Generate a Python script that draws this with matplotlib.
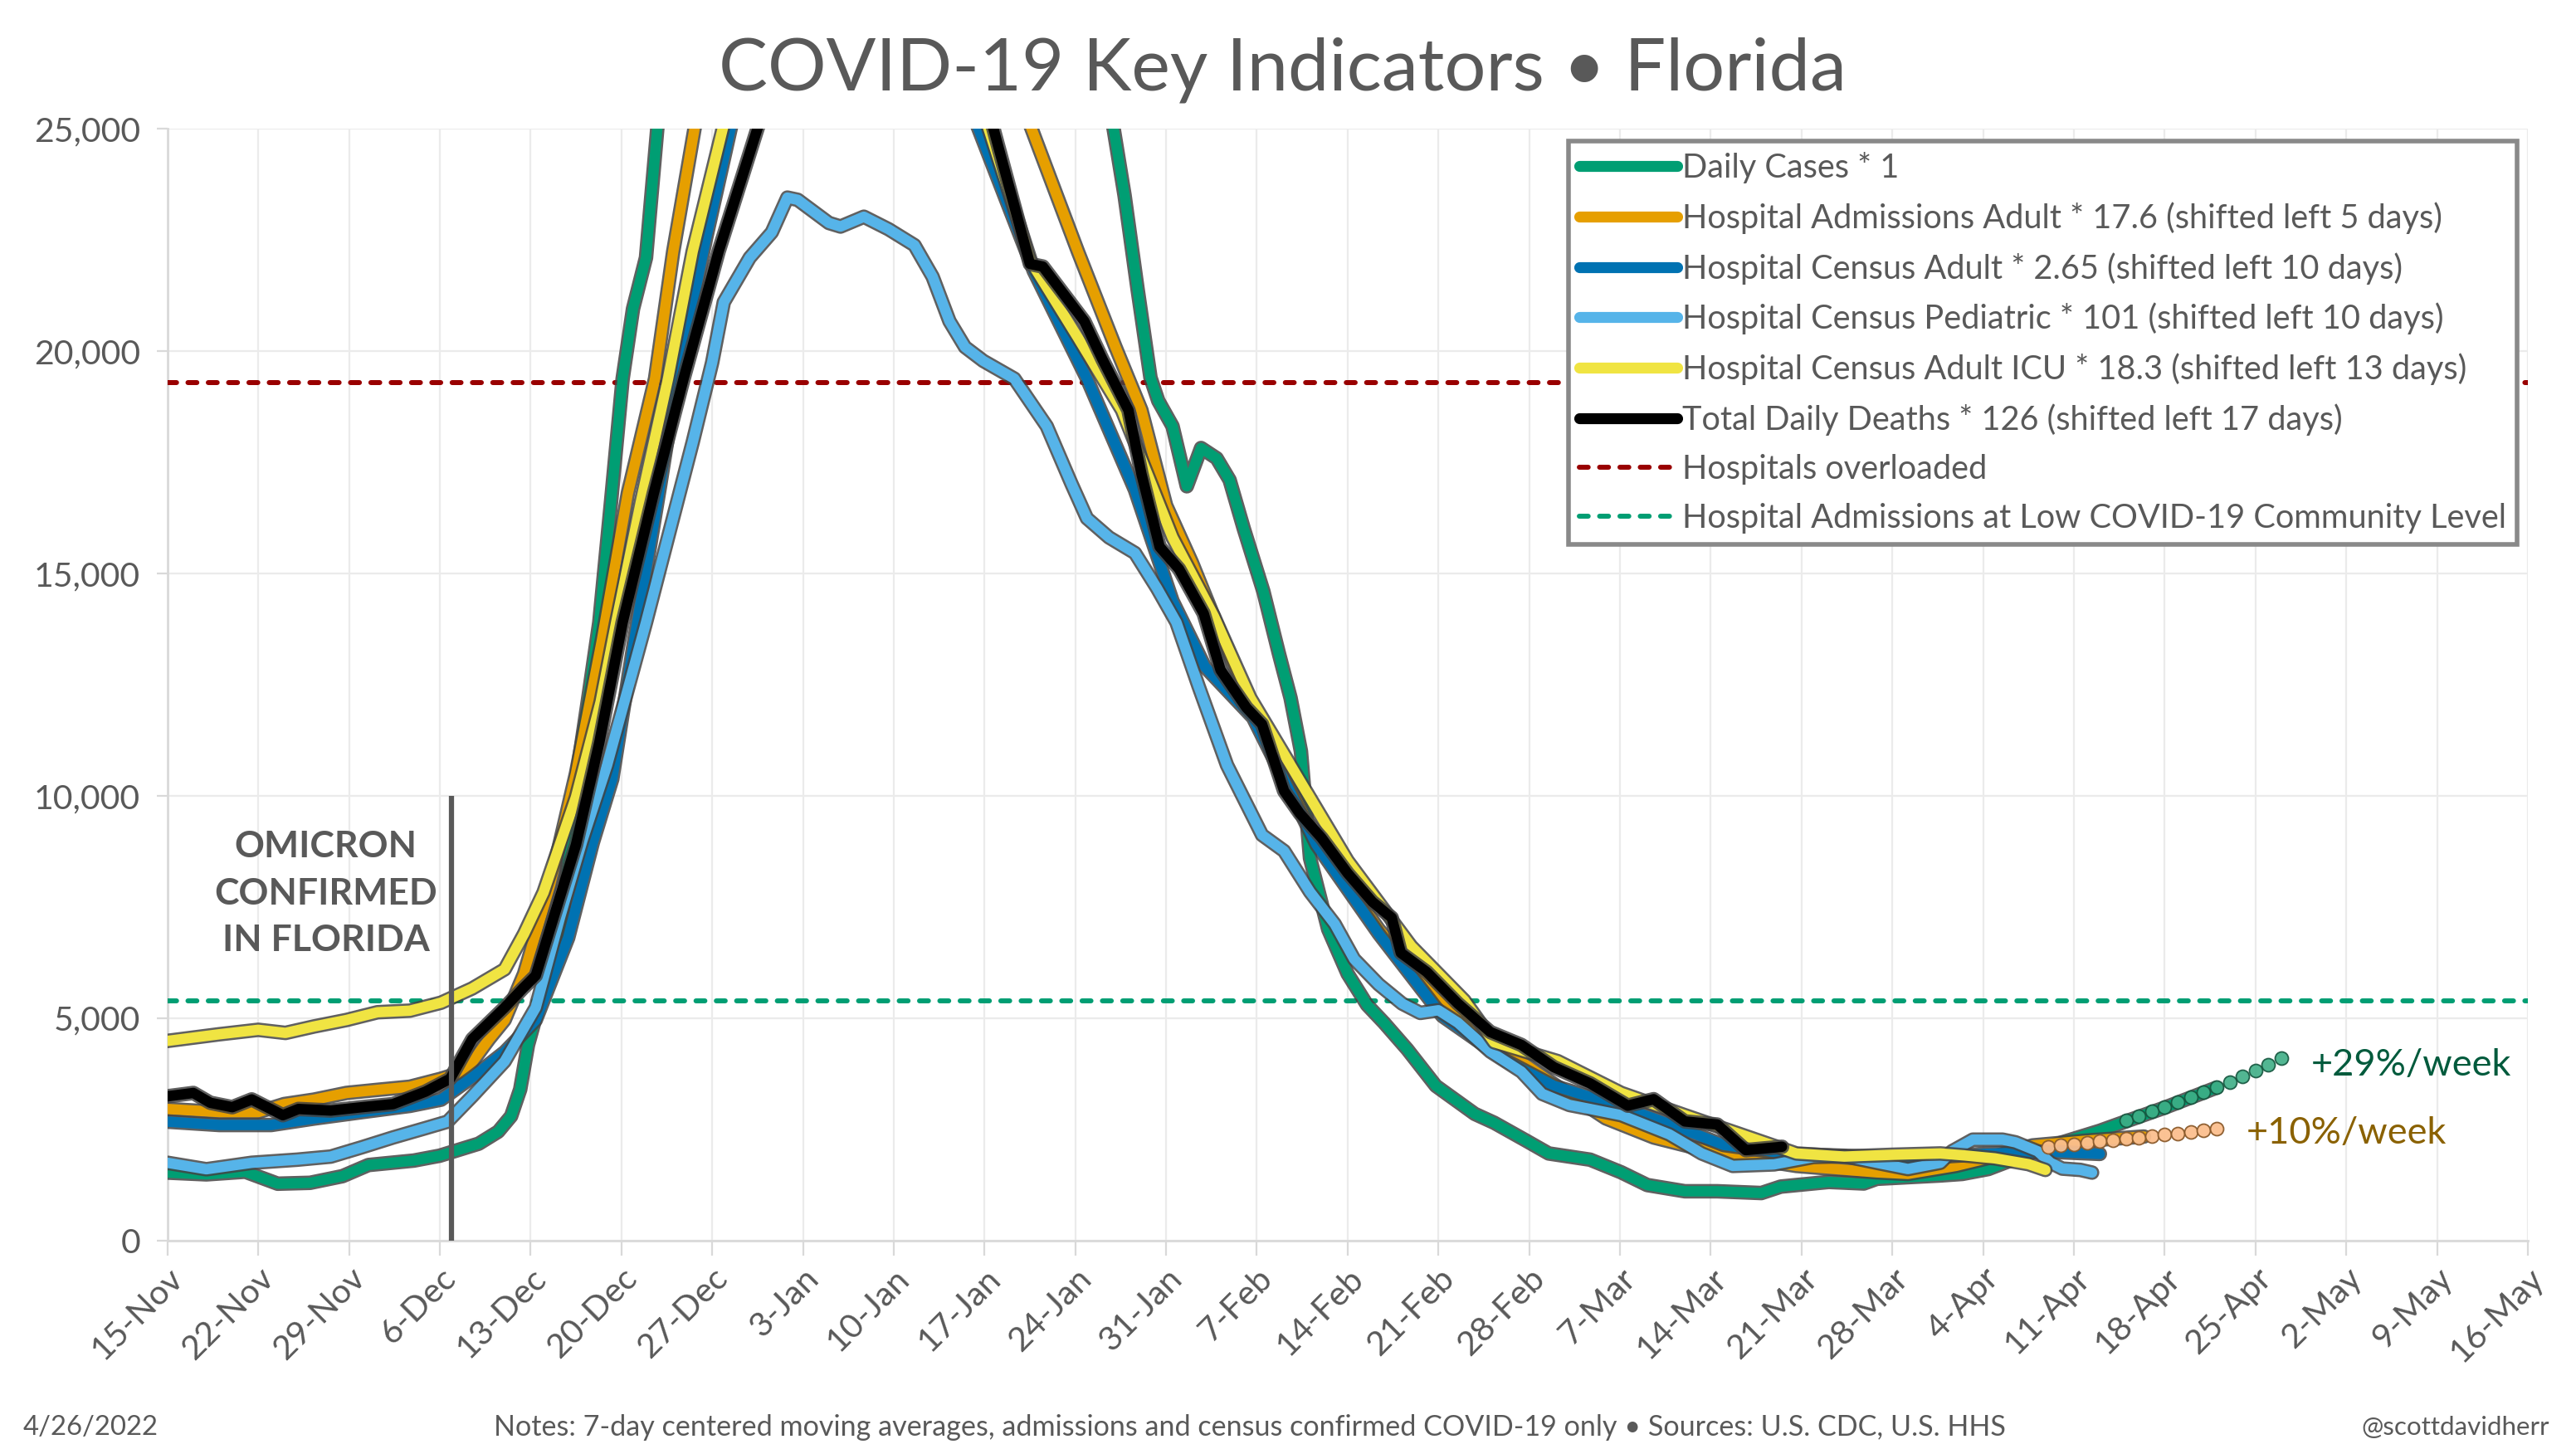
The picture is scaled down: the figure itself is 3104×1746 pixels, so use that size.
import numpy as np
import pandas as pd
import matplotlib
matplotlib.use("Agg")
import matplotlib.pyplot as plt
import matplotlib.patheffects as pe
from matplotlib.lines import Line2D
from matplotlib.ticker import FuncFormatter

plt.rcParams['font.family'] = ['Lato', 'DejaVu Sans']

START = pd.Timestamp("2021-11-15")
END = pd.Timestamp("2022-05-16")

# values: day offsets from 15-Nov-2021, scaled values
cases_days = [0, 3, 6, 8.5, 11, 13.5, 15.5, 19, 21, 24, 25.5, 26.5, 27.2, 27.8, 28.4, 29.4, 30.4,
              31.5, 32.4, 33.3, 34.2, 35.1, 35.9, 36.9, 37.8, 40, 45, 50, 55, 60, 65, 70, 72.9,
              73.8, 74.8, 75.8, 76.4, 77.5, 78.6, 79.7, 80.9, 81.9, 83, 84.5, 85.7, 86.6, 87.4,
              88.1, 89.5, 91, 92.5, 93.8, 95.6, 97.8, 100.8, 102.3, 104.75, 106.5, 109.7, 112.1,
              114.1, 117, 119.5, 122.9, 124.4, 128.1, 130.8, 131.8, 136.7, 138.4, 140.4, 143, 146,
              149, 151, 154, 158]
cases_vals = [1530, 1490, 1550, 1280, 1300, 1450, 1700, 1800, 1910, 2180, 2450, 2800, 3400, 4400,
              5030, 6000, 7100, 10340, 12100, 13900, 16600, 19380, 20950, 22100, 25100, 32000,
              48000, 60000, 64000, 58000, 45000, 32000, 25100, 23500, 21400, 19400, 18880, 18310,
              16960, 17820, 17590, 17100, 16000, 14600, 13200, 12200, 11000, 8600, 7000, 6000,
              5300, 4900, 4300, 3480, 2850, 2650, 2250, 1960, 1820, 1535, 1250, 1110, 1110, 1070,
              1215, 1320, 1285, 1390, 1465, 1500, 1610, 1900, 2200, 2470, 2680, 2990, 3440]

adm_days = [0, 4, 7, 9, 11.3, 13.8, 16.2, 18.7, 21.1, 23, 24.8, 26, 27.5, 29.5, 31.5, 33.5, 35.5,
            37.6, 39, 40.7, 45, 55, 62, 66.5, 70.2, 73.1, 75.1, 77, 79, 81, 84, 88.6, 93.4, 98,
            100, 104, 107, 110.9, 114.6, 119.5, 125.6, 131.8, 134.2, 137.9, 141, 143.8, 148, 152.4]
adm_vals = [2960, 2890, 2890, 3070, 3170, 3320, 3390, 3460, 3640, 3815, 4530, 4960, 6000, 8000,
            10500, 13500, 16800, 19380, 22240, 25100, 28500, 30500, 28500, 25100, 22240, 20090,
            18670, 16530, 15240, 13800, 11700, 9000, 7000, 5400, 4900, 4100, 3500, 2750, 2320,
            1960, 1680, 1535, 1500, 1680, 1900, 2140, 2250, 2340]

census_days = [0, 4, 8, 11.3, 15, 18.7, 21.1, 23.5, 26, 28.4, 30.9, 32.8, 34.3, 36, 38, 39.3, 41.5,
               43.5, 50, 56, 60, 62.4, 66.8, 70.9, 74.6, 77.5, 80, 83.7, 88.6, 93.4, 98.3, 103.2,
               106.9, 111.7, 116, 120, 125, 130, 135, 140, 145, 149]
census_vals = [2675, 2600, 2600, 2745, 2890, 3030, 3170, 3670, 4240, 4960, 6810, 8950, 10380,
               13500, 17000, 19380, 22500, 25100, 29500, 30000, 27500, 25100, 21800, 19380, 16880,
               14380, 12900, 11760, 8900, 6900, 5050, 4050, 3480, 3050, 2600, 2150, 1950, 1900,
               1850, 1950, 2000, 1950]

ped_days = [0, 3, 6.5, 10, 12.6, 15, 17.4, 19.9, 21.6, 23.5, 26, 28.4, 30.3, 32, 33.9, 36.9, 40.5,
            42, 42.9, 44.9, 46.6, 47.8, 48.6, 51, 51.9, 53.7, 55.6, 57.6, 59, 60.3, 61.5, 62.9,
            65.3, 67.8, 69.7, 70.9, 72.6, 74.6, 76.3, 77.8, 79.5, 81.7, 84.4, 86.1, 88.1, 90, 91.5,
            93.4, 95.2, 96.6, 98, 99.5, 102, 104.4, 106, 108.1, 109.7, 112.1, 115.8, 118.3, 120.7,
            123.9, 126.9, 129.3, 131.8, 134.2, 136.7, 137.6, 139.2, 141.5, 142.5, 144.2, 145.2,
            146.1, 147.5, 148.4]
ped_vals = [1750, 1605, 1750, 1820, 1890, 2100, 2320, 2530, 2675, 3245, 4030, 5240, 7300, 9000,
            10690, 13900, 17950, 19740, 21100, 22100, 22670, 23450, 23400, 22880, 22800, 23020,
            22740, 22380, 21670, 20670, 20090, 19780, 19380, 18310, 17020, 16240, 15810, 15460,
            14670, 13900, 12470, 10690, 9120, 8760, 7840, 7120, 6330, 5760, 5330, 5120, 5180,
            4900, 4250, 3800, 3300, 3050, 2960, 2820, 2390, 1960, 1680, 1715, 1880, 1900, 1750,
            1610, 1750, 2010, 2270, 2270, 2210, 2010, 1750, 1620, 1590, 1530]

icu_days = [0, 4, 7, 9.1, 11.3, 13.8, 16.2, 18.7, 21.1, 23.5, 26, 27.5, 29, 31.5, 33.4, 34.6, 36.5,
            38.6, 40.5, 42.9, 50, 57, 61, 63.2, 66.6, 70.2, 73.6, 77.5, 80.7, 83.5, 86.6, 91, 95.9,
            100, 102.3, 107.2, 112.1, 117, 122, 125.6, 129.3, 133, 136.7, 138.6, 140.9, 143.5, 144.8]
icu_vals = [4490, 4640, 4740, 4670, 4815, 4960, 5135, 5170, 5350, 5670, 6100, 6900, 7830, 9970,
            12110, 13900, 16600, 19380, 22240, 25100, 28000, 28500, 27000, 25100, 22000, 20300,
            18670, 15810, 14030, 12200, 10690, 8540, 6620, 5400, 4460, 4035, 3320, 2820, 2320,
            1960, 1890, 1930, 1960, 1915, 1850, 1720, 1590]

death_days = [0, 2, 3.3, 5, 6.5, 8.9, 10.1, 12.6, 15, 17.4, 19.9, 21.8, 23.5, 26, 27.4, 28.4, 31.5,
              33.3, 35.1, 37.5, 39.8, 42.5, 45.6, 52, 58, 62, 63.6, 66.5, 67.5, 70.7, 72.1, 74.1,
              75.1, 76.5, 78, 79.9, 81.2, 83.2, 84.4, 86.1, 87.3, 89, 91, 92.9, 94.4, 95.1, 97.1,
              99.5, 102, 104.4, 106.9, 109.7, 112.6, 114.6, 117, 119.5, 121.7, 124.5]
death_vals = [3245, 3320, 3100, 3000, 3175, 2820, 2960, 2925, 3000, 3070, 3350, 3640, 4530, 5240,
              5670, 5960, 8900, 11200, 13900, 16800, 19380, 22240, 25100, 29000, 29500, 27000,
              25100, 21960, 21900, 20670, 19810, 18670, 17240, 15600, 15100, 14100, 12830, 11980,
              11610, 10110, 9610, 9050, 8260, 7620, 7260, 6470, 6040, 5330, 4690, 4400, 3900,
              3535, 3035, 3180, 2680, 2610, 2035, 2110]

# trend projections (dots)
proj_cases_days = [151, 152, 153, 154, 155, 156, 157, 158, 159, 160, 161, 162, 163]
proj_cases_vals = [2700, 2800, 2900, 3000, 3110, 3220, 3330, 3450, 3570, 3700, 3830, 3960, 4100]
proj_adm_days = [145, 146, 147, 148, 149, 150, 151, 152, 153, 154, 155, 156, 157, 158]
proj_adm_vals = [2110, 2140, 2170, 2200, 2230, 2260, 2290, 2320, 2350, 2380, 2410, 2440, 2480, 2520]

overload_level = 19300
low_level = 5400
omicron_day = 21.9
omicron_top = 10000

labels = ["Daily Cases * 1",
          "Hospital Admissions Adult * 17.6 (shifted left 5 days)",
          "Hospital Census Adult * 2.65 (shifted left 10 days)",
          "Hospital Census Pediatric * 101 (shifted left 10 days)",
          "Hospital Census Adult ICU * 18.3 (shifted left 13 days)",
          "Total Daily Deaths * 126 (shifted left 17 days)",
          "Hospitals overloaded",
          "Hospital Admissions at Low COVID-19 Community Level"]
colors = ["#009E73", "#E69F00", "#0072B2", "#56B4E9", "#F0E442", "#000000"]

GRAY = "#595959"


def to_dates(days):
    return START + pd.to_timedelta(np.asarray(days, dtype=float), unit="D")


fig = plt.figure(figsize=(31.04, 17.46), dpi=100)
ax = fig.add_axes([0.065, 0.1438, 0.9163, 0.7674])

series = [(cases_days, cases_vals), (adm_days, adm_vals), (census_days, census_vals),
          (ped_days, ped_vals), (icu_days, icu_vals), (death_days, death_vals)]
LW = 9
outline = [pe.withStroke(linewidth=LW + 3.6, foreground="#444444", alpha=0.85)]
for i, ((d, v), c) in enumerate(zip(series, colors)):
    ax.plot(to_dates(d), v, color=c, lw=LW, solid_capstyle="round", solid_joinstyle="round",
            path_effects=outline, zorder=5 + i)

ax.plot(to_dates(proj_cases_days), proj_cases_vals, ls="none", marker="o", ms=11.5,
        mfc="#3fae86", mec="#14543d", mew=1.3, alpha=0.9, zorder=20)
ax.plot(to_dates(proj_adm_days), proj_adm_vals, ls="none", marker="o", ms=11.5,
        mfc="#fbbf8e", mec="#8a5a2b", mew=1.3, alpha=0.95, zorder=20)

dash = (1.8, 2.3)
ax.axhline(overload_level, color="#990000", lw=4.3, dashes=dash, dash_capstyle="round", zorder=3)
ax.axhline(low_level, color="#009E73", lw=4.3, dashes=dash, dash_capstyle="round", zorder=3)

ax.plot([START + pd.Timedelta(days=omicron_day)] * 2, [0, omicron_top], color=GRAY, lw=4.5,
        solid_capstyle="butt", zorder=12)
ax.text(START + pd.Timedelta(days=12.2), 7800, "OMICRON\nCONFIRMED\nIN FLORIDA", ha="center",
        va="center", fontsize=32, fontweight="bold", color=GRAY, linespacing=1.5, zorder=13)

ax.text(START + pd.Timedelta(days=165.3), 3940, "+29%/week", color="#005a3c", fontsize=32.5,
        va="center", ha="left")
ax.text(START + pd.Timedelta(days=160.3), 2420, "+10%/week", color="#8a6100", fontsize=32.5,
        va="center", ha="left")

ax.set_xlim(START, END)
ax.set_ylim(0, 25000)
ticks = pd.date_range(START, END, freq="7D")
ax.set_xticks(ticks)
ax.xaxis.set_major_formatter(FuncFormatter(
    lambda x, p: "{}-{}".format(matplotlib.dates.num2date(x).day,
                                matplotlib.dates.num2date(x).strftime("%b"))))
ax.set_yticks(range(0, 25001, 5000))
ax.yaxis.set_major_formatter(FuncFormatter(lambda y, p: f"{int(y):,}"))

ax.grid(True, color="#ebebeb", lw=1.6, zorder=0)
ax.set_axisbelow(True)
for s in ["top", "right"]:
    ax.spines[s].set_visible(False)
for s in ["left", "bottom"]:
    ax.spines[s].set_color("#d9d9d9")
    ax.spines[s].set_linewidth(2)
ax.tick_params(axis="x", length=13, width=1.6, color="#d9d9d9", labelsize=29.5,
               labelcolor=GRAY, pad=6)
ax.tick_params(axis="y", length=9.5, width=1.6, color="#d9d9d9", labelsize=29.5,
               labelcolor=GRAY, pad=14)
for lab in ax.get_xticklabels():
    lab.set_rotation(45)
    lab.set_ha("right")
    lab.set_va("top")
    lab.set_rotation_mode("anchor")

handles = [Line2D([], [], color=c, lw=9.5, solid_capstyle="round") for c in colors]
handles.append(Line2D([], [], color="#990000", lw=4.3, dashes=dash, dash_capstyle="round"))
handles.append(Line2D([], [], color="#009E73", lw=4.3, dashes=dash, dash_capstyle="round"))
leg = fig.legend(handles, labels, loc="upper left", bbox_to_anchor=(0.609, 0.9026),
                 fontsize=28.6, frameon=True, fancybox=False, framealpha=1, edgecolor="#898989",
                 handlelength=2.95, handletextpad=0.15, labelspacing=0.555, borderpad=0.33,
                 borderaxespad=0)
leg.get_frame().set_linewidth(4)
for t in leg.get_texts():
    t.set_color(GRAY)

fig.text(0.4978, 0.952, "COVID-19 Key Indicators \u2022 Florida", ha="center", va="center",
         fontsize=63.5, color=GRAY)
fig.text(0.009, 0.015, "4/26/2022", ha="left", va="center", fontsize=23.7, color=GRAY)
fig.text(0.4853, 0.015, "Notes: 7-day centered moving averages, admissions and census confirmed "
         "COVID-19 only \u2022 Sources: U.S. CDC, U.S. HHS", ha="center", va="center",
         fontsize=24.6, color=GRAY)
fig.text(0.9898, 0.015, "@scottdavidherr", ha="right", va="center", fontsize=22.6, color=GRAY)

fig.savefig("out.png", dpi=100, facecolor="white")
